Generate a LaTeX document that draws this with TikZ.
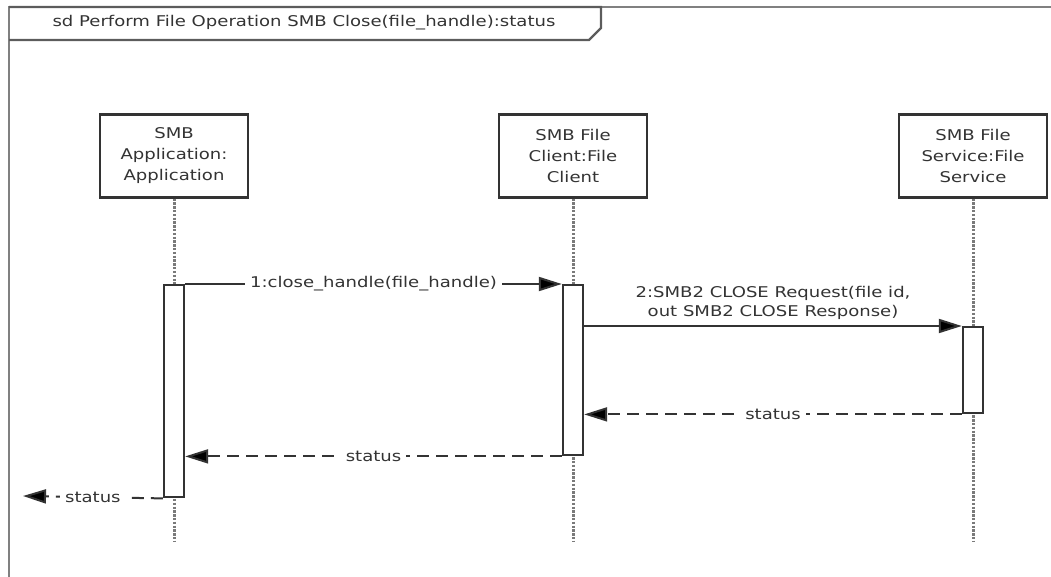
\documentclass[tikz,border=0pt]{standalone}
\usepackage{fontspec}
\setmainfont{DejaVu Sans}[FakeStretch=1.22]
\usetikzlibrary{arrows.meta}
\definecolor{edge}{HTML}{333333}
\definecolor{framegray}{HTML}{808080}
\definecolor{dotgray}{HTML}{7A7A7A}
\begin{document}
\begin{tikzpicture}[x=1pt,y=-1pt,
  font=\fontsize{14.8}{21}\selectfont,
  framel/.style={draw=framegray, line width=2.2pt},
  actor/.style={draw=edge, line width=2.4pt, minimum width=148pt, minimum height=83pt, align=center, inner sep=0pt, text=black!80},
  lifeline/.style={draw=dotgray, line width=3pt, dash pattern=on 2.4pt off 1.4pt},
  act/.style={draw=edge, fill=white, line width=2.4pt, minimum width=20pt, inner sep=0pt, anchor=north},
  msg/.style={draw=edge, line width=2pt, -{Triangle[length=23pt,width=14pt,fill=black]}},
  ret/.style={msg, dash pattern=on 12pt off 7pt},
  lbl/.style={fill=white, inner xsep=5pt, inner ysep=3pt, text=black!80}]
\useasboundingbox (0,0) rectangle (1051,577);

% frame and its title tab
\draw[framel] (9,577) -- (9,7) -- (1051,7);
\draw[framel, draw=edge!80] (9,7) -- (601,7) -- (601,28) -- (589,40) -- (9,40);
\node[text=black!80] (title) at (304,23) {sd Perform File Operation SMB Close(file\_handle):status};

% participants
\node[actor] (app) at (174,156) {SMB\\Application:\\Application};
\node[actor] (cli) at (573,156) {SMB File\\Client:File\\Client};
\node[actor] (srv) at (973,156) {SMB File\\Service:File\\Service};

% lifelines
\coordinate (appEnd) at (174,541);
\coordinate (cliEnd) at (573,541);
\coordinate (srvEnd) at (973,541);
\draw[lifeline] (app.south) -- (appEnd);
\draw[lifeline] (cli.south) -- (cliEnd);
\draw[lifeline] (srv.south) -- (srvEnd);

% activation bars
\node[act, minimum height=212pt] (appAct) at (174,284) {};
\node[act, minimum height=170pt] (cliAct) at (573,284) {};
\node[act, minimum height=86pt] (srvAct) at (973,326) {};

% messages
\draw[msg] (appAct.north east) -- (cliAct.north west)
  node[lbl, midway] (m1) {1:close\_handle(file\_handle)};
\draw[msg] (srvAct.north west -| cliAct.east) -- (srvAct.north west)
  node[midway, above=2pt, align=center, font=\fontsize{14.8}{19}\selectfont, text=black!80] (m2)
  {2:SMB2 CLOSE Request(file id,\\out SMB2 CLOSE Response)};
\draw[ret] (srvAct.south west) -- (srvAct.south west -| cliAct.east)
  node[lbl, midway] (r1) {status};
\draw[ret] (cliAct.south west) -- (cliAct.south west -| appAct.east)
  node[lbl, midway] (r2) {status};
\coordinate (caller) at (23,496);
\draw[ret] (appAct.south west) -- (caller)
  node[lbl, midway] (r3) {status};
\end{tikzpicture}
\end{document}
